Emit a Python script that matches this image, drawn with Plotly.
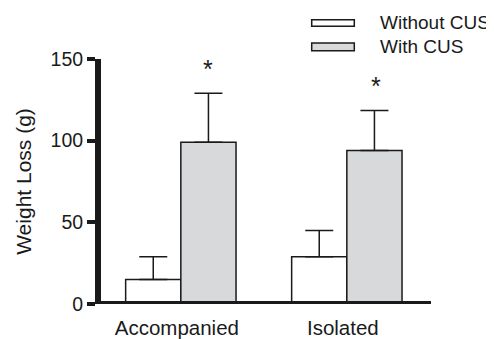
import plotly.graph_objects as go

categories = ["Accompanied", "Isolated"]
without_cus = [15, 29]
without_cus_err = [14, 16]
with_cus = [99, 94]
with_cus_err = [30, 24.5]
series_names = ["Without CUS", "With CUS"]
y_ticks = [0, 50, 100, 150]
sig_marks = ["*", "*"]

FONT = "Arial, Liberation Sans, sans-serif"
W, H = 494, 339
OFF = 8  # page body margin offset
ML, MR, MT, MB = 93, 71, 51, 43
PW, PH = W - ML - MR, H - MT - MB

def px_x(p):
    return (p - OFF - ML) / PW

def px_y(p):
    return (H - MB - (p - OFF)) / PH

fig = go.Figure()
fig.add_trace(go.Bar(
    x=categories, y=without_cus, name=series_names[0],
    marker=dict(color="white", line=dict(color="#1a1a1a", width=1.5)),
    error_y=dict(type="data", array=without_cus_err, arrayminus=[0] * len(without_cus_err),
                 symmetric=False, color="#1a1a1a", thickness=1.5, width=14),
    showlegend=False,
))
fig.add_trace(go.Bar(
    x=categories, y=with_cus, name=series_names[1],
    marker=dict(color="#d8d9db", line=dict(color="#1a1a1a", width=1.5)),
    error_y=dict(type="data", array=with_cus_err, arrayminus=[0] * len(with_cus_err),
                 symmetric=False, color="#1a1a1a", thickness=1.5, width=14),
    showlegend=False,
))

annotations = []
# significance stars above the With CUS bars
for i, cat in enumerate(categories):
    annotations.append(dict(
        x=cat, xref="x", xshift=27.5 + (2 if i == 1 else 0),
        y=with_cus[i] + with_cus_err[i], yref="y", yanchor="bottom",
        text=sig_marks[i], showarrow=False, yshift=8,
        font=dict(family=FONT, size=25, color="#1a1a1a"),
    ))

# manual legend
shapes = []
legend_rows = [(19.7, 26.3, 22.5, "white"), (43.0, 50.7, 46.5, "#d8d9db")]
for (y0, y1, yc, col), name in zip(legend_rows, series_names):
    shapes.append(dict(type="rect", xref="paper", yref="paper",
                       x0=px_x(311.7), x1=px_x(354.3), y0=px_y(y1), y1=px_y(y0),
                       fillcolor=col, line=dict(color="#1a1a1a", width=1.5)))
    annotations.append(dict(x=px_x(377.7), y=px_y(yc), xref="paper", yref="paper",
                            xanchor="left", yanchor="middle", text=name, showarrow=False,
                            font=dict(family=FONT, size=19, color="#1a1a1a")))

# thick baseline at y = 0
shapes.append(dict(type="line", xref="paper", yref="y", x0=px_x(95), x1=px_x(431),
                   y0=0, y1=0, line=dict(color="#1a1a1a", width=6), layer="above"))

fig.update_layout(
    template="none",
    width=W, height=H,
    margin=dict(l=ML, r=MR, t=MT, b=MB, pad=0, autoexpand=False),
    paper_bgcolor="white", plot_bgcolor="white",
    barmode="group", bargap=0.335, bargroupgap=0,
    font=dict(family=FONT, color="#1a1a1a"),
    shapes=shapes, annotations=annotations,
    showlegend=False,
    xaxis=dict(
        automargin=False,
        range=[-0.481, 1.507], showline=False, showgrid=False, zeroline=False,
        ticks="", tickfont=dict(family=FONT, size=20.5, color="#1a1a1a"),
        ticklabelshift=-4, ticklabelstandoff=9,
    ),
    yaxis=dict(
        automargin=False,
        range=[0, 150], tickvals=y_ticks, showline=True, linecolor="#1a1a1a", linewidth=6,
        ticks="outside", ticklen=8, tickwidth=4, tickcolor="#1a1a1a",
        showgrid=False, zeroline=False,
        tickfont=dict(family=FONT, size=19.5, color="#1a1a1a"),
        title=dict(text="Weight Loss (g)", font=dict(family=FONT, size=21, color="#1a1a1a"),
                   standoff=15),
    ),
)

fig.write_html("out.html")
